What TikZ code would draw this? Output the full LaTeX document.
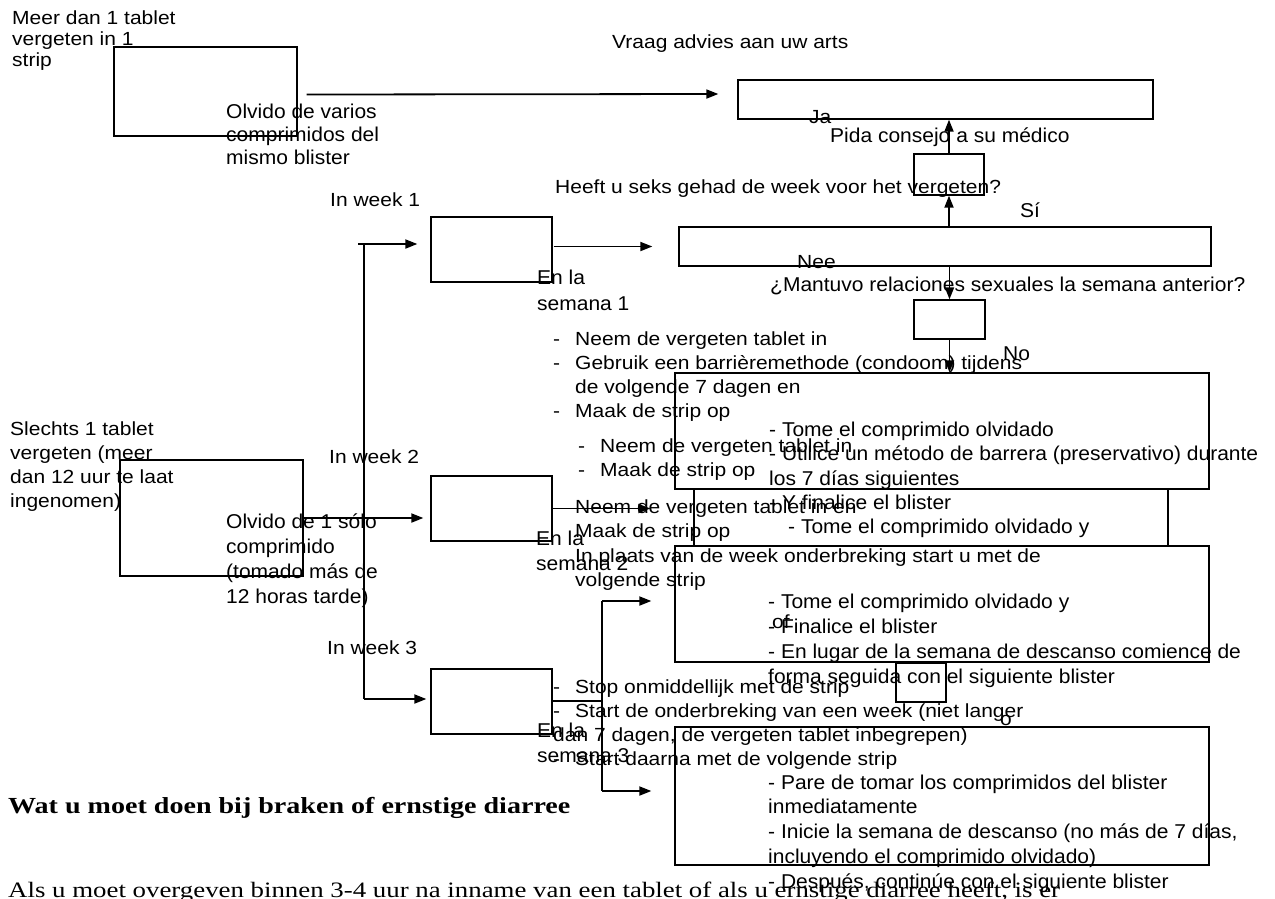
\documentclass[tikz,border=0pt]{standalone}
\usepackage{fontspec}
\setmainfont{Liberation Sans}
\newfontfamily\tnrfont{Liberation Serif}
\usetikzlibrary{arrows.meta,calc}
\newcommand{\mytx}[4]{\scalebox{#1}[1]{\fontsize{#2}{#3}\selectfont\begin{tabular}[t]{@{}l@{}}#4\end{tabular}}}
\newcommand{\nltxt}[2]{\mytx{1.105}{19}{#1}{#2}}
\newcommand{\estxt}[2]{\mytx{1.05}{20}{#1}{#2}}
\newcommand{\dashgap}{\makebox[19.9pt][l]{-}}
\newcommand{\indgap}{\hspace*{19.9pt}}
\tikzset{
  box/.style={draw, line width=1.3pt, inner sep=0pt},
  lbl/.style={anchor=base west, inner sep=0pt},
  ln/.style={line width=1.8pt},
  arr/.style={line width=1.8pt, -{Triangle[length=12pt,width=9pt]}}
}
\begin{document}
\begin{tikzpicture}[x=1pt,y=-1pt]
\useasboundingbox (0,0) rectangle (1275,898);
% boxes
\node[box, minimum width=183pt, minimum height=89pt] (A) at (205.5,91.5) {};
\node[box, minimum width=415pt, minimum height=39pt] (B) at (945.5,99.5) {};
\node[box, minimum width=70pt, minimum height=41pt] (C) at (949,174.5) {};
\node[box, minimum width=532pt, minimum height=39pt] (D) at (945,246.5) {};
\node[box, minimum width=71pt, minimum height=39pt] (E) at (949.5,319.5) {};
\node[box, minimum width=534pt, minimum height=116pt] (F) at (942,431) {};
\node[box, minimum width=474pt, minimum height=57pt] (F2) at (931,517.5) {};
\node[box, minimum width=534pt, minimum height=116pt] (F3) at (942,604) {};
\node[box, minimum width=50pt, minimum height=39pt] (S) at (921,682.5) {};
\node[box, minimum width=534pt, minimum height=138pt] (F4) at (942,796) {};
\node[box, minimum width=183pt, minimum height=116pt] (H) at (211.5,518) {};
\node[box, minimum width=121pt, minimum height=65pt] (G1) at (491.5,249.5) {};
\node[box, minimum width=121pt, minimum height=65pt] (G2) at (491.5,508.5) {};
\node[box, minimum width=121pt, minimum height=65pt] (G3) at (491.5,701.5) {};
% junction coordinates
\coordinate (t0) at (358,244);
\coordinate (t1) at (364,244);
\coordinate (t3) at (364,699);
\coordinate (t5) at (602,601);
\coordinate (t6) at (602,791);
\coordinate (t4) at (602,701);
% connectors
\draw[arr] ($(A.east)+(9,3)$) -- ($(B.west)+(-19,-5.5)$);
\draw[arr] (C.north) -- (C.north |- B.south);
\draw[arr] (C.south |- D.north) -- (C.south);
\draw[arr] (E.north |- D.south) -- (E.north);
\draw[arr] (E.south) -- (E.south |- F.north);
\draw[ln] (t1) -- (t3);
\draw[arr, shorten >=13pt] (t0) -- (G1.west |- t0);
\draw[arr, shorten >=4pt] (t3) -- (G3.west |- t3);
\draw[arr, shorten >=7pt] (H.east) -- (G2.west |- H.east);
\draw[arr, shorten <=1pt, shorten >=26pt] (G1.east |- D.west) -- (D.west);
\draw[arr, shorten >=43pt] (G2.east) -- (G2.east -| F2.west);
\draw[ln] (G3.east |- t4) -- (t4);
\draw[ln] (t5) -- (t6);
\draw[arr, shorten >=23pt] (t5) -- (t5 -| F3.west);
\draw[arr, shorten >=23pt] (t6) -- (t6 -| F4.west);
% Dutch texts
\node[lbl] (nA) at (12,24) {\nltxt{21}{Meer dan 1 tablet\\vergeten in 1\\strip}};
\node[lbl] (nVraag) at (612,48) {\nltxt{24}{Vraag advies aan uw arts}};
\node[lbl] (nJa) at (809,123) {\nltxt{24}{Ja}};
\node[lbl] (nHeeft) at (555,193) {\nltxt{24}{Heeft u seks gehad de week voor het vergeten?}};
\node[lbl] (nNee) at (797,268) {\nltxt{24}{Nee}};
\node[lbl] (nW1) at (330,206) {\nltxt{24}{In week 1}};
\node[lbl] (nL1) at (553,345) {\nltxt{24}{\dashgap Neem de vergeten tablet in\\\dashgap Gebruik een barrièremethode (condoom) tijdens\\\indgap de volgende 7 dagen en\\\dashgap Maak de strip op}};
\node[lbl] (nL2) at (578,452) {\nltxt{24}{\dashgap Neem de vergeten tablet in\\\dashgap Maak de strip op}};
\node[lbl] (nSl) at (10,435) {\nltxt{24}{Slechts 1 tablet\\vergeten (meer\\dan 12 uur te laat\\ingenomen)}};
\node[lbl] (nW2) at (329,463) {\nltxt{24}{In week 2}};
\node[lbl] (nL3) at (575,513) {\nltxt{24.5}{Neem de vergeten tablet in en\\Maak de strip op\\In plaats van de week onderbreking start u met de\\volgende strip}};
\node[lbl] (nW3) at (327,654) {\nltxt{24}{In week 3}};
\node[lbl] (nL4) at (553,693) {\nltxt{24}{\dashgap Stop onmiddellijk met de strip\\\dashgap Start de onderbreking van een week (niet langer\\dan 7 dagen, de vergeten tablet inbegrepen)\\\dashgap Start daarna met de volgende strip}};
\node[lbl] (nOf) at (772,628) {\nltxt{24}{of}};
\node[lbl] (nO) at (1000,725) {\nltxt{24}{o}};
% Spanish texts
\node[lbl] (sA) at (226,118) {\estxt{23}{Olvido de varios\\comprimidos del\\mismo blister}};
\node[lbl] (sPida) at (830,142) {\estxt{25}{Pida consejo a su médico}};
\node[lbl] (sSi) at (1020,217) {\estxt{25}{Sí}};
\node[lbl] (sMant) at (770,291) {\estxt{25}{¿Mantuvo relaciones sexuales la semana anterior?}};
\node[lbl] (sNo) at (1003,360) {\estxt{25}{No}};
\node[lbl] (sEn1) at (537,284) {\estxt{26}{En la\\semana 1}};
\node[lbl] (sF) at (769,436) {\estxt{24.5}{- Tome el comprimido olvidado\\- Utilice un método de barrera (preservativo) durante\\los 7 días siguientes\\- Y finalice el blister}};
\node[lbl] (sH) at (226,528) {\estxt{25}{Olvido de 1 sólo\\comprimido\\(tomado más de\\12 horas tarde)}};
\node[lbl] (sEn2) at (536,545) {\estxt{25}{En la\\semana 2}};
\node[lbl] (sF2) at (788,533) {\estxt{25}{- Tome el comprimido olvidado y}};
\node[lbl] (sF3) at (768,608) {\estxt{25}{- Tome el comprimido olvidado y\\- Finalice el blister\\- En lugar de la semana de descanso comience de\\forma seguida con el siguiente blister}};
\node[lbl] (sEn3) at (537,737) {\estxt{25}{En la\\semana 3}};
\node[lbl] (sF4) at (768,789) {\estxt{24.75}{- Pare de tomar los comprimidos del blister\\inmediatamente\\- Inicie la semana de descanso (no más de 7 días,\\incluyendo el comprimido olvidado)\\- Después, continúe con el siguiente blister}};
% bottom Times text
\node[lbl] (hd) at (8,813) {\scalebox{1.22}[1]{\tnrfont\bfseries\fontsize{23}{27}\selectfont Wat u moet doen bij braken of ernstige diarree}};
\node[lbl] (bd) at (8,897) {\scalebox{1.22}[1]{\tnrfont\fontsize{22}{26}\selectfont Als u moet overgeven binnen 3-4 uur na inname van een tablet of als u ernstige diarree heeft, is er}};
\end{tikzpicture}
\end{document}
